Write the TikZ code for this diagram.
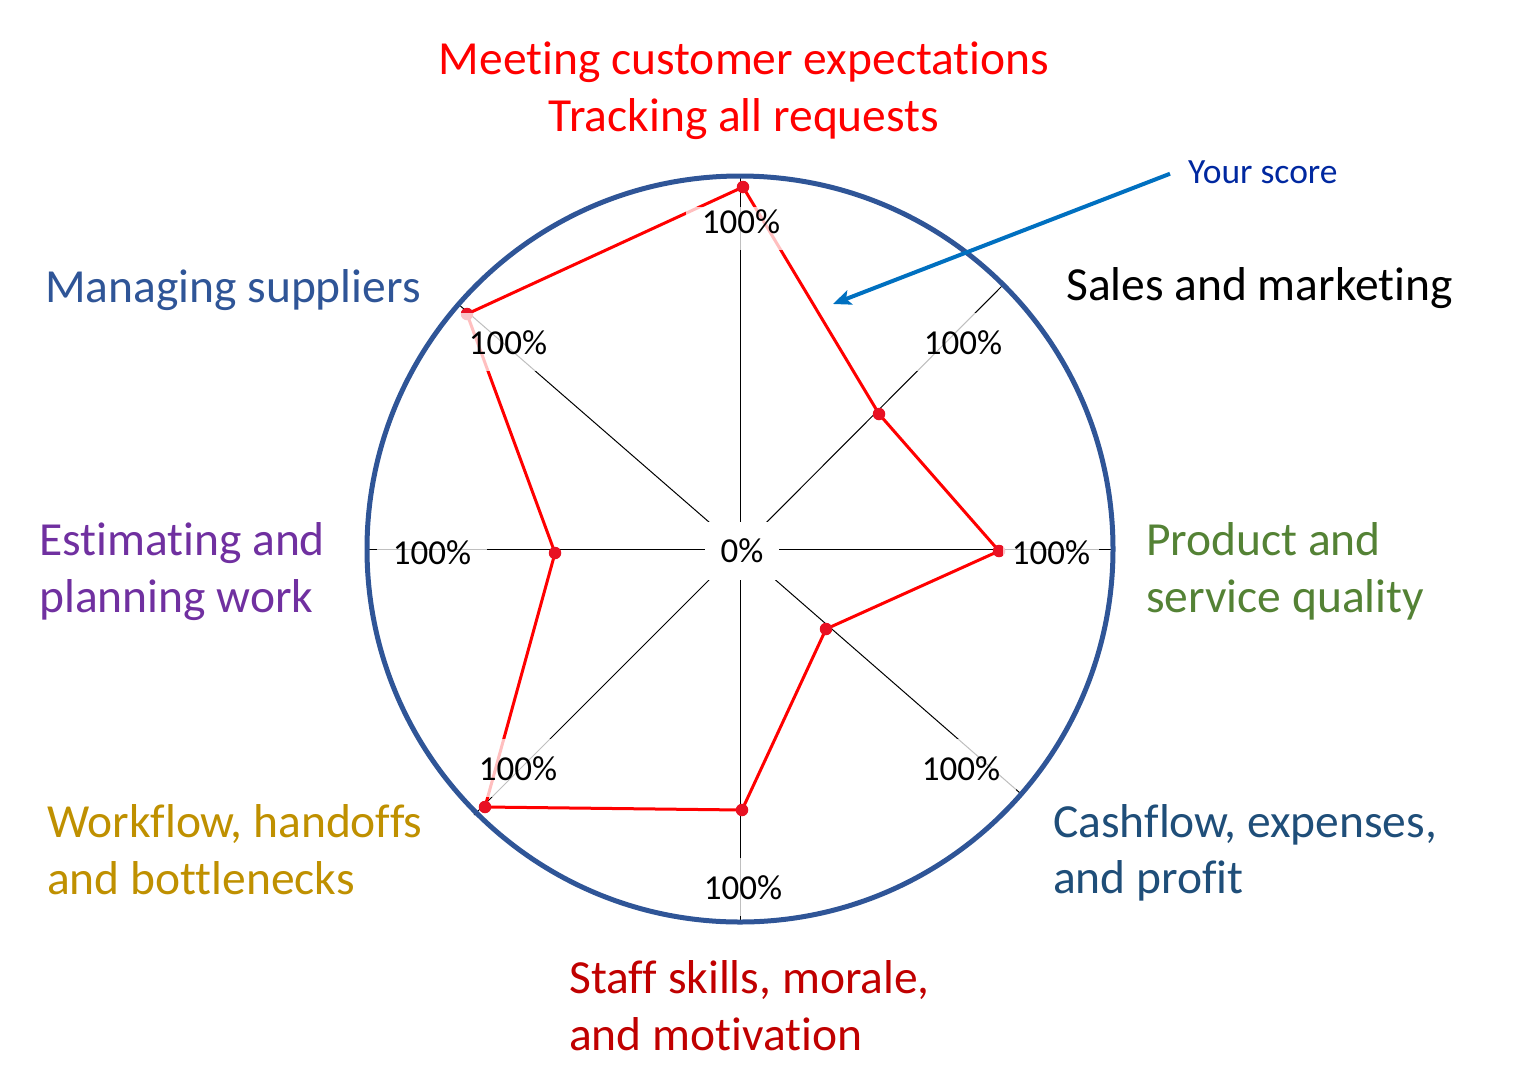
\documentclass[tikz,border=0pt]{standalone}
\usepackage{fontspec}
\setmainfont{Carlito}[Ligatures=NoCommon]
\usetikzlibrary{arrows.meta}
\definecolor{meetred}{RGB}{255,0,0}
\definecolor{scoreblue}{RGB}{0,40,160}
\definecolor{prodgreen}{RGB}{84,130,53}
\definecolor{cashblue}{RGB}{31,78,121}
\definecolor{staffred}{RGB}{192,0,0}
\definecolor{workgold}{RGB}{191,144,0}
\definecolor{estpurple}{RGB}{112,48,160}
\definecolor{ringblue}{RGB}{47,85,151}
\definecolor{arrowblue}{RGB}{0,112,192}
\definecolor{dotred}{RGB}{232,17,35}
\begin{document}
\begin{tikzpicture}[x=1pt,y=-1pt,
  big/.style={font=\fontsize{47.5}{57}\selectfont, inner sep=0pt, anchor=base west},
  pct/.style={font=\fontsize{35}{42}\selectfont, fill=white, fill opacity=0.75, text opacity=1,
    inner xsep=16pt, inner ysep=0pt, text height=41pt, text depth=17pt, anchor=base},
  spoke/.style={line width=1pt, black},
  scoreline/.style={draw=meetred, line width=3pt, line join=round},
  dotmark/.style={circle, fill=dotred, inner sep=0pt, minimum size=12.5pt},
  ring/.style={draw=ringblue, line width=5pt},
  arrowline/.style={draw=arrowblue, line width=4pt, -{Stealth[length=18pt,width=15pt,inset=4pt]}}
]
\useasboundingbox (0,0) rectangle (1522,1066);
% centre and spoke ends
\coordinate (c) at (740,549);
\coordinate (eN) at (740,176);
\coordinate (eNE) at (1003,285);
\coordinate (eE) at (1113,549);
\coordinate (eSE) at (1020,793);
\coordinate (eS) at (740,922);
\coordinate (eSW) at (474,815);
\coordinate (eW) at (366,549);
\coordinate (eNW) at (457,303);
\foreach \e in {eN,eNE,eE,eSE,eS,eSW,eW,eNW} \draw[spoke] (c) -- (\e);
% score polygon
\coordinate (v1) at (743,187);
\coordinate (v2) at (879,414);
\coordinate (v3) at (999,551);
\coordinate (v4) at (826,629);
\coordinate (v5) at (742,810);
\coordinate (v6) at (485,807);
\coordinate (v7) at (555,553);
\coordinate (v8) at (467,314);
\draw[scoreline] (v1) -- (v2) -- (v3) -- (v4) -- (v5) -- (v6) -- (v7) -- (v8) -- cycle;
\foreach \v in {v1,v2,v3,v4,v5,v6,v7,v8} \node[dotmark] (d\v) at (\v) {};
% percentage labels
\node[pct, text height=26pt] (pN) at (741,233) {100\%};
\node[pct] (pNE) at (963,354) {100\%};
\node[pct, inner xsep=9pt] (pE) at (1051,564) {100\%};
\node[pct] (pSE) at (961,780) {100\%};
\node[pct] (pS) at (743,899) {100\%};
\node[pct] (pSW) at (518,780) {100\%};
\node[pct] (pW) at (432,564) {100\%};
\node[pct] (pNW) at (508,354) {100\%};
\node[pct, fill opacity=1, text height=40pt, text depth=18pt] (zero) at (742,562) {0\%};
% ring
\draw[ring] (c) circle[radius=373];
% category labels
\node[big, anchor=base, text=meetred] (meet1) at (744,74) {Meeting customer expectations};
\node[big, anchor=base, text=meetred] (meet2) at (744,131) {Tracking all requests};
\node[big, text=black] (sales) at (1066,300) {Sales and marketing};
\node[big, text=prodgreen] (prod1) at (1146,555) {Product and};
\node[big, text=prodgreen] (prod2) at (1146,612) {service quality};
\node[big, text=cashblue] (cash1) at (1053,837) {Cashflow, expenses,};
\node[big, text=cashblue] (cash2) at (1053,893) {and profit};
\node[big, text=staffred] (staff1) at (569,993) {Staff skills, morale,};
\node[big, text=staffred] (staff2) at (569,1050) {and motivation};
\node[big, text=workgold] (work1) at (47,837) {Workflow, handoffs};
\node[big, text=workgold] (work2) at (47,894) {and bottlenecks};
\node[big, text=estpurple] (est1) at (39,555) {Estimating and};
\node[big, text=estpurple] (est2) at (39,612) {planning work};
\node[big, text=ringblue] (man) at (45,302) {Managing suppliers};
% your score pointer
\node[font=\fontsize{35.5}{42}\selectfont, text=scoreblue, inner sep=0pt, anchor=base west] (score) at (1188,183) {Your score};
\coordinate (arrT) at (833,304);
\draw[arrowline] ([xshift=-18pt,yshift=-2pt]score.west) -- (arrT);
\end{tikzpicture}
\end{document}
